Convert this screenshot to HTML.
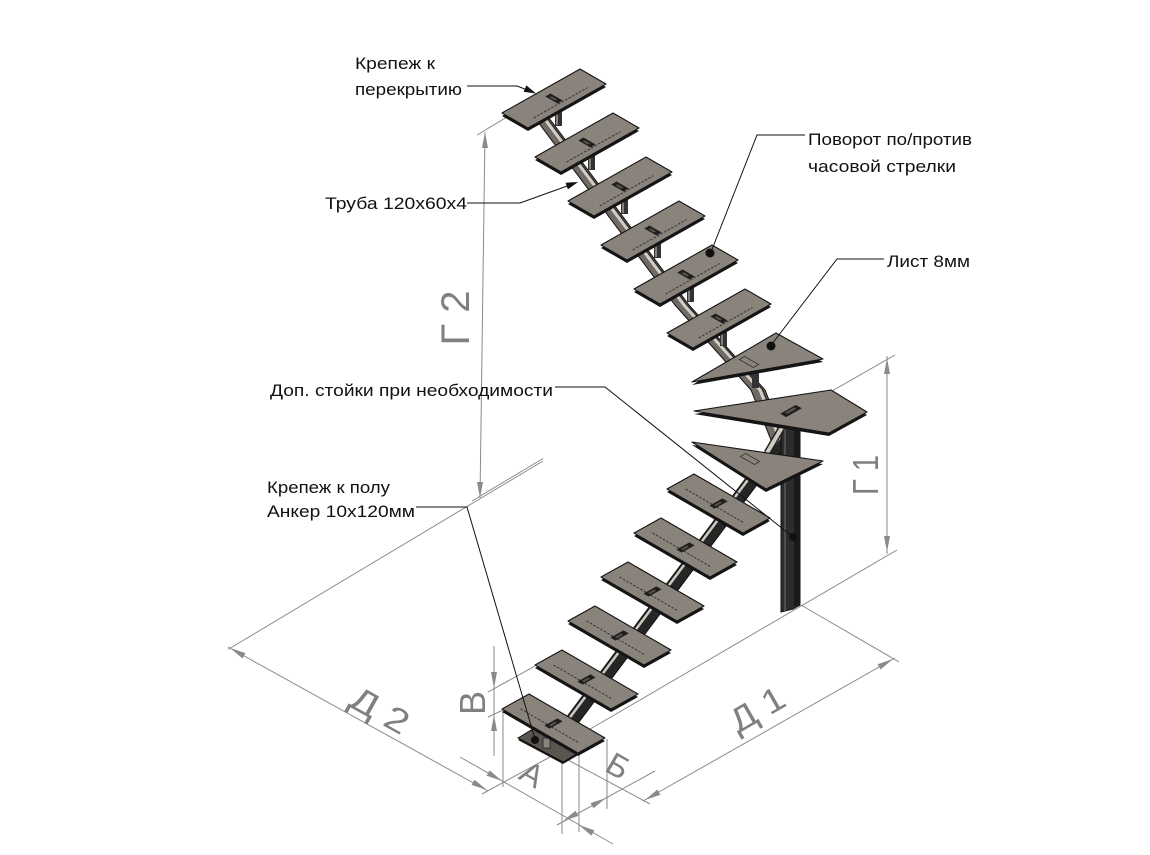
<!DOCTYPE html>
<html><head><meta charset="utf-8">
<style>
html,body{margin:0;padding:0;background:#fff;width:1150px;height:855px;overflow:hidden}
svg{display:block}
.lbl{font-family:"Liberation Sans",Arial,sans-serif;font-size:17px;fill:#111}
.dim{font-family:"Liberation Sans",Arial,sans-serif;fill:#808080}
</style></head>
<body>
<svg width="1150" height="855" viewBox="0 0 1150 855" xmlns="http://www.w3.org/2000/svg">
<defs>
  <g id="ut">
    <polygon points="0,3 26,18 104,-26 78,-41" fill="#151515"/>
    <polygon points="0,0 78,-44 104,-29 26,15" fill="#8a837b" stroke="#151515" stroke-width="1.1" stroke-linejoin="round"/>
    <line x1="31.7" y1="4.95" x2="85.5" y2="-25.4" stroke="#2a2a2a" stroke-width="0.9" stroke-dasharray="2.5,1.5"/>
    <polygon points="43.3,-16.5 55.5,-9.5 60.7,-12.5 48.5,-19.5" fill="#1e1e1e"/>
    <polygon points="47.5,-15.6 53,-12.4 55.2,-13.6 49.7,-16.8" fill="#55514b"/>
  </g>
  <g id="lt">
    <polygon points="0,3 27,-12 103,32 76,47" fill="#151515"/>
    <polygon points="0,0 27,-15 103,29 76,44" fill="#8a837b" stroke="#151515" stroke-width="1.1" stroke-linejoin="round"/>
    <line x1="18.6" y1="0" x2="76.3" y2="33.5" stroke="#2a2a2a" stroke-width="0.9" stroke-dasharray="2.5,1.5"/>
    <polygon points="42.35,16.64 55.45,9.36 60.65,12.36 47.55,19.64" fill="#1e1e1e"/>
    <polygon points="47,16 53,12.6 55,13.8 49,17.2" fill="#55514b"/>
  </g>
</defs>

<!-- dimension / extension lines -->
<g stroke="#8a8a8a" stroke-width="1" fill="none">
  <line x1="477" y1="135" x2="507" y2="117"/>
  <line x1="485" y1="132" x2="480" y2="498"/>
  <line x1="228" y1="649.5" x2="543" y2="461"/>
  <line x1="472" y1="501" x2="543" y2="458.5"/>
  <line x1="228" y1="647" x2="488" y2="791"/>
  <line x1="482" y1="794" x2="550" y2="757"/>
  <line x1="460" y1="757" x2="613" y2="844"/>
  <line x1="503" y1="710" x2="503" y2="787"/>
  <line x1="562" y1="762" x2="562" y2="834"/>
  <line x1="579" y1="755" x2="579" y2="832"/>
  <line x1="607" y1="739" x2="607" y2="809"/>
  <line x1="557" y1="825" x2="655" y2="771"/>
  <line x1="568" y1="760" x2="650" y2="804"/>
  <line x1="643" y1="801" x2="895" y2="658"/>
  <line x1="801" y1="605" x2="899" y2="662"/>
  <line x1="580" y1="735" x2="897" y2="550"/>
  <line x1="832" y1="391" x2="895" y2="355"/>
  <line x1="887" y1="356" x2="887" y2="554"/>
  <line x1="494" y1="646" x2="494" y2="756"/>
  <line x1="488" y1="692" x2="535" y2="666"/>
  <line x1="488" y1="717" x2="503" y2="710"/>
</g>
<!-- dimension arrows -->
<g fill="#8a8a8a">
  <polygon points="485,132 482,148 488,148"/>
  <polygon points="480,498 477,482 483,482"/>
  <polygon points="230,648 245.5,653.1 242.5,658.4"/>
  <polygon points="487,790 474.5,779.7 471.5,784.9"/>
  <polygon points="502,781 486.6,775.6 489.6,770.4"/>
  <polygon points="579,825 591.4,835.6 594.4,830.4"/>
  <polygon points="606,798 593.5,808.3 590.5,803.1"/>
  <polygon points="563,821 578.5,815.9 575.5,810.7"/>
  <polygon points="893,659 880.6,669.5 877.6,664.3"/>
  <polygon points="645,800 660.4,794.7 657.4,789.5"/>
  <polygon points="887,358 884,374 890,374"/>
  <polygon points="887,552 884,536 890,536"/>
  <polygon points="494,688 491,672 497,672"/>
  <polygon points="494,715 491,731 497,731"/>
</g>

<!-- dimension text -->
<g class="dim">
  <text transform="translate(455,318) rotate(-90)" x="0" y="14" font-size="40" text-anchor="middle" textLength="55" lengthAdjust="spacingAndGlyphs">Г 2</text>
  <text transform="translate(865,475) rotate(-90)" x="0" y="13" font-size="36" text-anchor="middle" textLength="40" lengthAdjust="spacingAndGlyphs">Г 1</text>
  <text transform="translate(472,703) rotate(-90)" x="0" y="13" font-size="36" text-anchor="middle">В</text>
  <text transform="translate(380,710) rotate(29)" x="0" y="12" font-size="34" text-anchor="middle" textLength="62" lengthAdjust="spacingAndGlyphs">Д 2</text>
  <text transform="translate(757,709) rotate(-30)" x="0" y="12" font-size="34" text-anchor="middle" textLength="58" lengthAdjust="spacingAndGlyphs">Д 1</text>
  <text transform="translate(532,774) rotate(30)" x="0" y="11" font-size="32" text-anchor="middle">А</text>
  <text transform="translate(618,766) rotate(30)" x="0" y="11" font-size="32" text-anchor="middle">Б</text>
</g>

<!-- upper beam -->
<polygon points="529,110 675,305 751,390 771,440 785,440 765,390 689,305 543,110" fill="#6f6a63" stroke="#111" stroke-width="1"/>
<polyline points="538,110 684,305 760,390 780,440" fill="none" stroke="#d2cec6" stroke-width="3"/>
<polyline points="541,110 687,305 763,390 783,440" fill="none" stroke="#222" stroke-width="1"/>
<!-- upper brackets -->
<g fill="#333">
  <rect x="555" y="106" width="7" height="20"/>
  <rect x="588" y="150" width="7" height="20"/>
  <rect x="621" y="194" width="7" height="20"/>
  <rect x="654" y="238" width="7" height="20"/>
  <rect x="687" y="282" width="7" height="20"/>
  <rect x="720" y="326" width="7" height="20"/>
  <rect x="752" y="368" width="7" height="20"/>
</g>
<g stroke="#b9b5ad" stroke-width="1.2">
  <line x1="557" y1="107" x2="557" y2="125"/>
  <line x1="590" y1="151" x2="590" y2="169"/>
  <line x1="623" y1="195" x2="623" y2="213"/>
  <line x1="656" y1="239" x2="656" y2="257"/>
  <line x1="689" y1="283" x2="689" y2="301"/>
  <line x1="722" y1="327" x2="722" y2="345"/>
</g>

<!-- upper treads -->
<use href="#ut" x="502" y="113"/>
<use href="#ut" x="535" y="157"/>
<use href="#ut" x="568" y="201"/>
<use href="#ut" x="601" y="245"/>
<use href="#ut" x="634" y="289"/>
<use href="#ut" x="667" y="333"/>

<!-- lower beam -->
<polygon points="785.75,425 801.75,425 565.5,740 549.5,740" fill="#262626" stroke="#111"/>
<line x1="789" y1="425" x2="553" y2="740" stroke="#cfcac0" stroke-width="2.5"/>

<!-- post -->
<polygon points="781,420 800,420 800,605 793,609 781,612" fill="#2c2c2c" stroke="#111" stroke-width="1"/>
<rect x="794" y="420" width="6" height="186" fill="#1a1a1a"/>
<line x1="785" y1="420" x2="785" y2="611" stroke="#5a5a5a" stroke-width="1.5"/>

<!-- winder 1 -->
<polygon points="692,385 776,336 823,362" fill="#151515"/>
<polygon points="692,382 776,333 823,359" fill="#8a837b" stroke="#151515" stroke-width="1.1" stroke-linejoin="round"/>
<polygon points="739.4,359.5 753.4,367.5 758.6,364.5 744.6,356.5" fill="none" stroke="#333" stroke-width="0.8"/>

<!-- brace -->
<line x1="784" y1="424" x2="767" y2="453" stroke="#222" stroke-width="7"/>
<line x1="784" y1="424" x2="767" y2="453" stroke="#d0ccc4" stroke-width="4"/>

<!-- winder 2 -->
<polygon points="694,414 831,393 867,415 829,436" fill="#151515"/>
<polygon points="694,411 831,390 867,412 829,433" fill="#8a837b" stroke="#151515" stroke-width="1.1" stroke-linejoin="round"/>
<polygon points="780.2,413.7 795.8,404.9 801.8,408.3 786.2,417.1" fill="#1e1e1e"/>
<polygon points="785,412.5 794,407.4 796.5,408.8 787.5,413.9" fill="#55514b"/>

<!-- winder 3 -->
<polygon points="692,445 823,464 766,492" fill="#151515"/>
<polygon points="692,442 823,461 766,489" fill="#8a837b" stroke="#151515" stroke-width="1.1" stroke-linejoin="round"/>
<polygon points="740.4,456.5 754.4,464.5 759.6,461.5 745.6,453.5" fill="none" stroke="#333" stroke-width="0.8"/>

<!-- floor plate -->
<polygon points="518,740 533,731 580,754 563,764" fill="#151515"/>
<polygon points="518,738 533,729 580,752 563,762" fill="#5a554f" stroke="#111" stroke-width="1"/>
<rect x="543" y="738" width="7" height="10" fill="#8a857d" stroke="#222" stroke-width="0.8"/>

<!-- lower treads -->
<use href="#lt" x="667" y="489"/>
<use href="#lt" x="634" y="533"/>
<use href="#lt" x="601" y="577"/>
<use href="#lt" x="568" y="621"/>
<use href="#lt" x="535" y="665"/>
<use href="#lt" x="502" y="709"/>

<!-- leader lines -->
<g stroke="#111" stroke-width="1" fill="none">
  <polyline points="467,86 517,86 530,91"/>
  <polyline points="467,203 520,203 570,185"/>
  <polyline points="805,135 757,135 711,252"/>
  <polyline points="884,259 837,259 772,344"/>
  <polyline points="555,387 605,387 793,537"/>
  <polyline points="416,507 467,507 535,739"/>
</g>
<g fill="#111">
  <polygon points="536,93.5 523.6,91.8 526.4,85.4"/>
  <polygon points="578,182 567.9,189.4 565.5,182.8"/>
  <circle cx="710" cy="253" r="4.5"/>
  <circle cx="771" cy="346" r="4.5"/>
  <circle cx="793" cy="537" r="4"/>
  <circle cx="535" cy="740" r="4"/>
</g>

<!-- labels -->
<text class="lbl" x="355" y="69" textLength="80" lengthAdjust="spacingAndGlyphs">Крепеж к</text>
<text class="lbl" x="355" y="95" textLength="107" lengthAdjust="spacingAndGlyphs">перекрытию</text>
<text class="lbl" x="325" y="209" textLength="142" lengthAdjust="spacingAndGlyphs">Труба 120х60х4</text>
<text class="lbl" x="808" y="145" textLength="164" lengthAdjust="spacingAndGlyphs">Поворот по/против</text>
<text class="lbl" x="808" y="172" textLength="148" lengthAdjust="spacingAndGlyphs">часовой стрелки</text>
<text class="lbl" x="887" y="267" textLength="83" lengthAdjust="spacingAndGlyphs">Лист 8мм</text>
<text class="lbl" x="270" y="396" textLength="283" lengthAdjust="spacingAndGlyphs">Доп. стойки при необходимости</text>
<text class="lbl" x="267" y="493" textLength="123" lengthAdjust="spacingAndGlyphs">Крепеж к полу</text>
<text class="lbl" x="267" y="517" textLength="148" lengthAdjust="spacingAndGlyphs">Анкер 10х120мм</text>
</svg>
</body></html>
